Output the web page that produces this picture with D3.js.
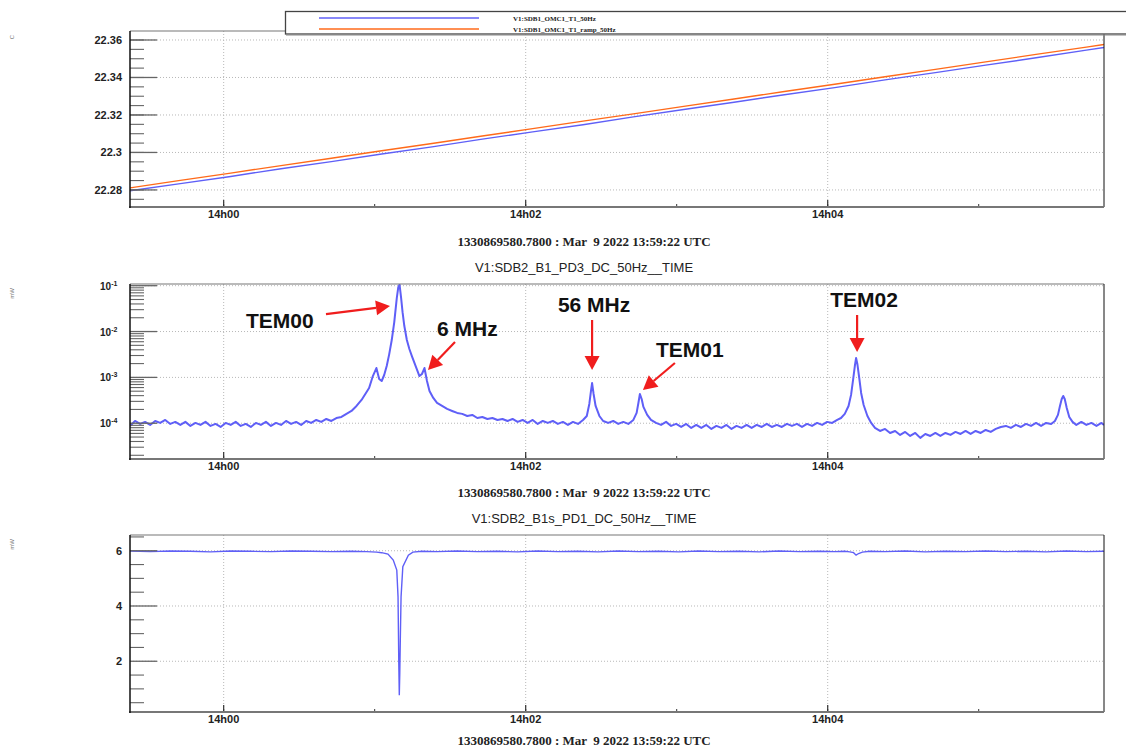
<!DOCTYPE html>
<html><head><meta charset="utf-8">
<script src="https://cdn.jsdelivr.net/npm/d3@7/dist/d3.min.js"></script>
<style>
body{margin:0;background:#fff;}
svg{display:block;font-family:"Liberation Sans",Arial,Helvetica,sans-serif;}
</style></head><body>
<svg id="chart" width="1126" height="751"></svg>
<script>
// ---------------- DATA ----------------
const startTime = Date.UTC(2022, 2, 9, 13, 59, 22, 780);   // 1330869580.78
const durationSec = 387;
const subtitle = "1330869580.7800 : Mar  9 2022 13:59:22 UTC";
const panelTitles = ["", "V1:SDB2_B1_PD3_DC_50Hz__TIME", "V1:SDB2_B1s_PD1_DC_50Hz__TIME"];
const unitLabels = ["C", "mW", "mW"];
const legendNames = ["V1:SDB1_OMC1_T1_50Hz", "V1:SDB1_OMC1_T1_ramp_50Hz"];

// panel 1 : temperature (C), [seconds from start, value]
const tempMeasured = [[0,22.2796],[20,22.2834],[40,22.2872],[60,22.2913],[80,22.2951],[100,22.2992],[120,22.3030],[140,22.3071],[160,22.3110],[180,22.3148],[200,22.3190],[220,22.3229],[240,22.3268],[260,22.3308],[280,22.3346],[300,22.3387],[320,22.3426],[340,22.3466],[360,22.3505],[380,22.3546],[387,22.3560]];
const tempRamp = [[0,22.2811],[20,22.2851],[40,22.2890],[60,22.2930],[80,22.2969],[100,22.3009],[120,22.3048],[140,22.3088],[160,22.3127],[180,22.3167],[200,22.3206],[220,22.3246],[240,22.3285],[260,22.3325],[280,22.3364],[300,22.3404],[320,22.3443],[340,22.3483],[360,22.3523],[380,22.3562],[387,22.3576]];
const p1MajorTicks = [22.28, 22.30, 22.32, 22.34, 22.36];
const p1TickLabels = ["22.28", "22.3", "22.32", "22.34", "22.36"];

// panel 2 : PD3 DC power (mW), [seconds from start, value]
const pd3Power = [[0,8.73e-5],[2,1.12e-4],[4,9.66e-5],[6,1.07e-4],[8,9.18e-5],[10,1.12e-4],[12,1.015e-4],[14,1.18e-4],[16,9.66e-5],[18,1.07e-4],[20,9.18e-5],[22,1.07e-4],[24,8.73e-5],[26,1.015e-4],[28,9.18e-5],[30,1.07e-4],[32,8.73e-5],[34,9.66e-5],[36,8.3e-5],[38,1.015e-4],[40,9.18e-5],[42,1.07e-4],[44,8.73e-5],[46,9.66e-5],[48,8.3e-5],[50,1.015e-4],[52,9.18e-5],[54,1.07e-4],[56,8.73e-5],[58,1.015e-4],[60,9.18e-5],[62,1.12e-4],[64,9.66e-5],[66,1.07e-4],[68,9.18e-5],[70,1.12e-4],[72,1.015e-4],[74,1.18e-4],[76,1.07e-4],[78,1.24e-4],[80,1.12e-4],[82,1.30e-4],[84,1.37e-4],[86,1.60e-4],[88,1.85e-4],[90,2.38e-4],[92,3.22e-4],[93.5,4.35e-4],[95,5.87e-4],[96.5,1.07e-3],[97.9,1.60e-3],[99,9.22e-4],[100,8.34e-4],[101,1.127e-3],[102,1.77e-3],[103,3.22e-3],[104,6.53e-3],[105,1.61e-2],[106,5.37e-2],[106.6,9.3e-2],[107.1,0.105],[107.7,5.59e-2],[108.3,2.64e-2],[109,1.32e-2],[110,6.53e-3],[111,4.16e-3],[112,2.92e-3],[113.5,1.77e-3],[115,1.07e-3],[116,1.185e-3],[117,1.60e-3],[118,8.34e-4],[119,5.06e-4],[120.5,3.56e-4],[122,2.77e-4],[124,2.38e-4],[126,2.05e-4],[128,1.85e-4],[130,1.68e-4],[132,1.60e-4],[134,1.44e-4],[136,1.52e-4],[138,1.30e-4],[140,1.37e-4],[142,1.24e-4],[144,1.30e-4],[146,1.18e-4],[148,1.24e-4],[150,1.12e-4],[152,1.24e-4],[154,1.07e-4],[156,1.18e-4],[158,1.015e-4],[160,1.18e-4],[162,9.66e-5],[164,1.12e-4],[166,1.015e-4],[168,1.12e-4],[170,9.66e-5],[172,1.07e-4],[174,9.18e-5],[176,1.07e-4],[178,9.66e-5],[180,1.18e-4],[181.5,1.44e-4],[182.5,2.63e-4],[183.1,4.8e-4],[183.6,7.54e-4],[184.2,4.35e-4],[185,2.38e-4],[186.5,1.44e-4],[188,1.12e-4],[190,1.015e-4],[192,1.12e-4],[194,9.66e-5],[196,1.07e-4],[198,9.66e-5],[200,1.18e-4],[201.3,1.68e-4],[202,2.77e-4],[202.6,4.35e-4],[203.3,3.38e-4],[204,2.27e-4],[205.5,1.52e-4],[207,1.18e-4],[209,1.015e-4],[211,9.18e-5],[213,1.07e-4],[215,8.73e-5],[217,9.66e-5],[219,8.3e-5],[221,9.66e-5],[223,7.9e-5],[225,9.18e-5],[227,7.9e-5],[229,9.18e-5],[231,7.51e-5],[233,8.73e-5],[235,7.9e-5],[237,9.18e-5],[239,7.51e-5],[241,8.73e-5],[243,7.9e-5],[245,9.18e-5],[247,7.9e-5],[249,9.18e-5],[251,8.3e-5],[253,9.66e-5],[255,8.3e-5],[257,9.18e-5],[259,8.3e-5],[261,9.66e-5],[263,8.73e-5],[265,9.66e-5],[267,8.3e-5],[269,9.66e-5],[271,8.73e-5],[273,1.015e-4],[275,9.18e-5],[277,1.07e-4],[279,1.015e-4],[281,1.18e-4],[282.5,1.30e-4],[284,1.60e-4],[285.5,2.38e-4],[286.5,4.15e-4],[287.3,8.8e-4],[288,1.77e-3],[288.5,2.65e-3],[289,1.97e-3],[289.7,1.02e-3],[290.5,4.57e-4],[291.5,2.5e-4],[293,1.44e-4],[294.5,1.015e-4],[296,7.9e-5],[298,6.79e-5],[300,7.51e-5],[302,6.14e-5],[304,6.79e-5],[306,5.56e-5],[308,6.46e-5],[310,5.28e-5],[312,6.14e-5],[314,4.79e-5],[316,5.84e-5],[318,5.28e-5],[320,6.14e-5],[322,5.28e-5],[324,6.14e-5],[326,5.56e-5],[328,6.46e-5],[330,5.84e-5],[332,6.79e-5],[334,5.84e-5],[336,6.79e-5],[338,6.14e-5],[340,7.14e-5],[342,6.46e-5],[344,7.51e-5],[346,8.3e-5],[348,8.73e-5],[350,7.9e-5],[352,9.18e-5],[354,8.3e-5],[356,9.66e-5],[358,8.73e-5],[360,1.015e-4],[362,8.73e-5],[364,1.015e-4],[366,9.66e-5],[367.5,1.12e-4],[368.7,1.52e-4],[369.5,2.38e-4],[370.2,3.38e-4],[370.8,3.93e-4],[371.4,3.38e-4],[372.2,2.15e-4],[373.2,1.37e-4],[374.5,1.07e-4],[376,9.18e-5],[378,1.07e-4],[380,9.18e-5],[382,1.015e-4],[384,8.73e-5],[386,1.015e-4],[387,9.18e-5]];
const p2Decades = [-4, -3, -2, -1];

// panel 3 : PD1 DC power (mW), [seconds from start, value]
const pd1Power = [[0,5.99],[8,5.97],[16,5.99],[24,5.98],[32,5.96],[40,5.99],[48,5.98],[56,5.97],[64,5.99],[72,5.98],[80,5.97],[88,5.98],[94,5.97],[98,5.95],[100,5.93],[102.5,5.88],[104.6,5.66],[106,5.30],[106.5,4.33],[106.8,1.93],[107,0.77],[107.2,1.60],[107.4,2.76],[107.7,4.33],[108.4,5.42],[110.6,5.84],[112.4,5.95],[116,5.98],[122,5.97],[130,5.99],[138,5.97],[146,5.98],[154,5.96],[162,5.99],[170,5.97],[178,5.98],[186,5.96],[194,5.99],[202,5.97],[210,5.98],[218,5.96],[226,5.99],[234,5.97],[242,5.98],[250,5.96],[258,5.99],[266,5.97],[274,5.98],[280,5.97],[284,5.98],[286,5.96],[287.5,5.93],[288.5,5.84],[289.5,5.90],[291,5.95],[294,5.98],[300,5.97],[308,5.99],[316,5.96],[324,5.98],[332,5.97],[340,5.99],[348,5.97],[356,5.98],[364,5.96],[372,5.99],[380,5.97],[387,5.98]];
const p3MajorTicks = [2, 4, 6];
const p3TickLabels = ["2", "4", "6"];

// peak annotations (anchor in data units: seconds, mW)
const annotations = [
  {label: "TEM00", t: 103.3, v: 0.0359},
  {label: "6 MHz", t: 118.4, v: 1.45e-3},
  {label: "56 MHz", t: 183.6, v: 1.45e-3},
  {label: "TEM01", t: 203.8, v: 5.31e-4},
  {label: "TEM02", t: 288.9, v: 3.58e-3}
];

// ---------------- LAYOUT / STYLE ----------------
const annotationLayout = {
  "TEM00": {tail: [-64, 8], text: [-144, 22], anchor: "start"},
  "6 MHz": {tail: [27, -28], text: [9, -34], anchor: "start"},
  "56 MHz": {tail: [0, -50], text: [2, -58], anchor: "middle"},
  "TEM01": {tail: [32, -27], text: [13, -33], anchor: "start"},
  "TEM02": {tail: [0, -37], text: [7, -45], anchor: "middle"}
};
const L = 130, R = 1104;
const panels = [{top: 31, bottom: 207, sub: 246}, {top: 284, bottom: 459, sub: 497}, {top: 535, bottom: 712, sub: 745}];
const BLUE = "#5f5ff7", ORANGE = "#ff6a1a", RED = "#f01d1d";
const svg = d3.select("#chart");

const t0 = new Date(startTime), t1 = new Date(startTime + durationSec * 1000);
const x = d3.scaleUtc().domain([t0, t1]).range([L, R]);
const tx = s => new Date(startTime + s * 1000);
const fmt = d3.utcFormat("%Hh%M");
const majorX = d3.utcMinute.every(2).range(t0, t1);
const minorX = d3.utcMinute.every(1).range(t0, t1);

const y1 = d3.scaleLinear().domain([22.2709, 22.3648]).range([panels[0].bottom, panels[0].top]);
const y2 = d3.scaleLog().domain([Math.pow(10, -4.78), Math.pow(10, -0.963)]).range([panels[1].bottom, panels[1].top]);
const y3 = d3.scaleLinear().domain([0.163, 6.57]).range([panels[2].bottom, panels[2].top]);

function drawPanel(i, y, majorY, minorY, labelFn, unit) {
  const p = panels[i];
  const g = svg.append("g");
  svg.append("clipPath").attr("id", "clip" + i).append("rect")
    .attr("x", L).attr("y", p.top).attr("width", R - L).attr("height", p.bottom - p.top);
  g.selectAll(".gx").data(majorX).join("line")
    .attr("x1", d => x(d)).attr("x2", d => x(d)).attr("y1", p.top).attr("y2", p.bottom)
    .attr("stroke", "#b8b8b8").attr("stroke-width", 1).attr("stroke-dasharray", "1,2");
  g.selectAll(".gy").data(majorY).join("line")
    .attr("x1", L).attr("x2", R).attr("y1", d => y(d)).attr("y2", d => y(d))
    .attr("stroke", "#b8b8b8").attr("stroke-width", 1).attr("stroke-dasharray", "1,2");
  const data = g.append("g").attr("clip-path", `url(#clip${i})`);
  g.selectAll(".ym").data(minorY).join("line")
    .attr("x1", L).attr("x2", L + 14).attr("y1", d => y(d)).attr("y2", d => y(d))
    .attr("stroke", "#666").attr("stroke-width", 1.1);
  g.selectAll(".yM").data(majorY).join("line")
    .attr("x1", L).attr("x2", L + 27).attr("y1", d => y(d)).attr("y2", d => y(d))
    .attr("stroke", "#666").attr("stroke-width", 1.3);
  labelFn(g, y);
  g.selectAll(".xm").data(minorX).join("line")
    .attr("x1", d => x(d)).attr("x2", d => x(d)).attr("y1", p.bottom).attr("y2", p.bottom - 3)
    .attr("stroke", "#333").attr("stroke-width", 1);
  g.selectAll(".xM").data(majorX).join("line")
    .attr("x1", d => x(d)).attr("x2", d => x(d)).attr("y1", p.bottom).attr("y2", p.bottom - 7)
    .attr("stroke", "#333").attr("stroke-width", 1.2);
  g.selectAll(".xl").data(majorX).join("text")
    .attr("x", d => x(d)).attr("y", p.bottom + 11).attr("text-anchor", "middle")
    .attr("font-size", 11).attr("font-weight", "bold").attr("fill", "#222").text(fmt);
  g.append("line").attr("x1", L).attr("x2", R).attr("y1", p.top).attr("y2", p.top).attr("stroke", "#777").attr("stroke-width", 1.2);
  g.append("line").attr("x1", R).attr("x2", R).attr("y1", p.top).attr("y2", p.bottom).attr("stroke", "#111").attr("stroke-width", 1);
  g.append("line").attr("x1", L - 1).attr("x2", R).attr("y1", p.bottom).attr("y2", p.bottom).attr("stroke", "#777").attr("stroke-width", 2);
  g.append("line").attr("x1", L).attr("x2", L).attr("y1", p.top).attr("y2", p.bottom + 1).attr("stroke", "#111").attr("stroke-width", 1.5);
  g.append("text").attr("transform", `translate(14,${p.top + 4}) rotate(-90)`).attr("text-anchor", "end")
    .attr("font-size", 6).attr("fill", "#777").text(unit);
  g.append("text").attr("x", 584).attr("y", p.sub).attr("text-anchor", "middle")
    .attr("font-family", "'Liberation Serif','Times New Roman',serif").attr("font-weight", "bold")
    .attr("font-size", 13).attr("fill", "#222").attr("xml:space", "preserve").style("white-space", "pre").text(subtitle);
  if (panelTitles[i]) {
    g.append("text").attr("x", 584).attr("y", p.top - 12).attr("text-anchor", "middle")
      .attr("font-size", 13).attr("fill", "#222").text(panelTitles[i]);
  }
  return data;
}

// ---- panel 1
const p1Minor = d3.range(22.265, 22.366, 0.005).map(v => +v.toFixed(3)).filter(v => v >= 22.2709 && v <= 22.3648);
const d1 = drawPanel(0, y1, p1MajorTicks, p1Minor, (g, y) => {
  g.selectAll(".yl").data(p1MajorTicks).join("text")
    .attr("x", 122).attr("y", d => y(d) + 4).attr("text-anchor", "end")
    .attr("font-size", 11).attr("font-weight", "bold").attr("fill", "#222")
    .text((d, j) => p1TickLabels[j]);
}, unitLabels[0]);
const line1 = d3.line().x(d => x(tx(d[0]))).y(d => y1(d[1]));
d1.append("path").datum(tempMeasured).attr("d", line1).attr("fill", "none").attr("stroke", BLUE).attr("stroke-width", 1.4);
d1.append("path").datum(tempRamp).attr("d", line1).attr("fill", "none").attr("stroke", ORANGE).attr("stroke-width", 1.4);

// ---- panel 2
const p2Major = p2Decades.map(e => Math.pow(10, e));
const p2Minor = [];
[-5, -4, -3, -2, -1].forEach(e => { for (let k = 2; k <= 9; k++) { const v = k * Math.pow(10, e); if (v >= y2.domain()[0] && v <= y2.domain()[1]) p2Minor.push(v); } });
const d2 = drawPanel(1, y2, p2Major, p2Minor, (g, y) => {
  const t = g.selectAll(".yl").data(p2Decades).join("text")
    .attr("x", 100).attr("y", d => y(Math.pow(10, d)) + 4)
    .attr("font-size", 10).attr("font-weight", "bold").attr("fill", "#222");
  t.append("tspan").text("10");
  t.append("tspan").attr("dy", -4).attr("font-size", 7).text(d => String(d));
}, unitLabels[1]);
const line2 = d3.line().x(d => x(tx(d[0]))).y(d => y2(d[1]));
d2.append("path").datum(pd3Power).attr("d", line2).attr("fill", "none").attr("stroke", BLUE).attr("stroke-width", 2).attr("stroke-linejoin", "round");

// annotations
const ann = svg.append("g");
annotations.forEach(a => {
  const lay = annotationLayout[a.label];
  const tip = [x(tx(a.t)), y2(a.v)];
  const tail = [tip[0] + lay.tail[0], tip[1] + lay.tail[1]];
  const dx = tip[0] - tail[0], dy = tip[1] - tail[1], len = Math.hypot(dx, dy);
  const ux = dx / len, uy = dy / len, hl = 14, hw = 7.5;
  const base = [tip[0] - ux * hl, tip[1] - uy * hl];
  ann.append("line").attr("x1", tail[0]).attr("y1", tail[1]).attr("x2", base[0]).attr("y2", base[1])
    .attr("stroke", RED).attr("stroke-width", 2.2);
  ann.append("path").attr("d", `M${tip[0]},${tip[1]}L${base[0] - uy * hw},${base[1] + ux * hw}L${base[0] + uy * hw},${base[1] - ux * hw}Z`)
    .attr("fill", RED);
  ann.append("text").attr("x", tip[0] + lay.text[0]).attr("y", tip[1] + lay.text[1])
    .attr("text-anchor", lay.anchor).attr("font-size", 21).attr("font-weight", "bold").attr("fill", "#111")
    .text(a.label);
});

// ---- panel 3
const p3Minor = d3.range(0.5, 6.6, 0.5).filter(v => !p3MajorTicks.includes(v) && v >= 0.163 && v <= 6.57);
const d3p = drawPanel(2, y3, p3MajorTicks, p3Minor, (g, y) => {
  g.selectAll(".yl").data(p3MajorTicks).join("text")
    .attr("x", 122).attr("y", d => y(d) + 4).attr("text-anchor", "end")
    .attr("font-size", 11).attr("font-weight", "bold").attr("fill", "#222")
    .text((d, j) => p3TickLabels[j]);
}, unitLabels[2]);
const line3 = d3.line().x(d => x(tx(d[0]))).y(d => y3(d[1]));
d3p.append("path").datum(pd1Power).attr("d", line3).attr("fill", "none").attr("stroke", BLUE).attr("stroke-width", 1.4);

// ---- legend
const lg = svg.append("g");
lg.append("rect").attr("x", 285.5).attr("y", 11.5).attr("width", 860).attr("height", 22.5)
  .attr("fill", "#fff").attr("stroke", "#444").attr("stroke-width", 1.3);
lg.append("line").attr("x1", 286).attr("x2", 1126).attr("y1", 35).attr("y2", 35).attr("stroke", "#888").attr("stroke-width", 1);
[BLUE, ORANGE].forEach((c, j) => {
  const yy = 18 + j * 11;
  lg.append("line").attr("x1", 319).attr("x2", 479).attr("y1", yy).attr("y2", yy).attr("stroke", c).attr("stroke-width", 1.3);
  lg.append("text").attr("x", 513).attr("y", yy + 2.5)
    .attr("font-family", "'Liberation Serif','Times New Roman',serif").attr("font-weight", "bold")
    .attr("font-size", 7).attr("fill", "#222").text(legendNames[j]);
});
</script>
</body></html>
